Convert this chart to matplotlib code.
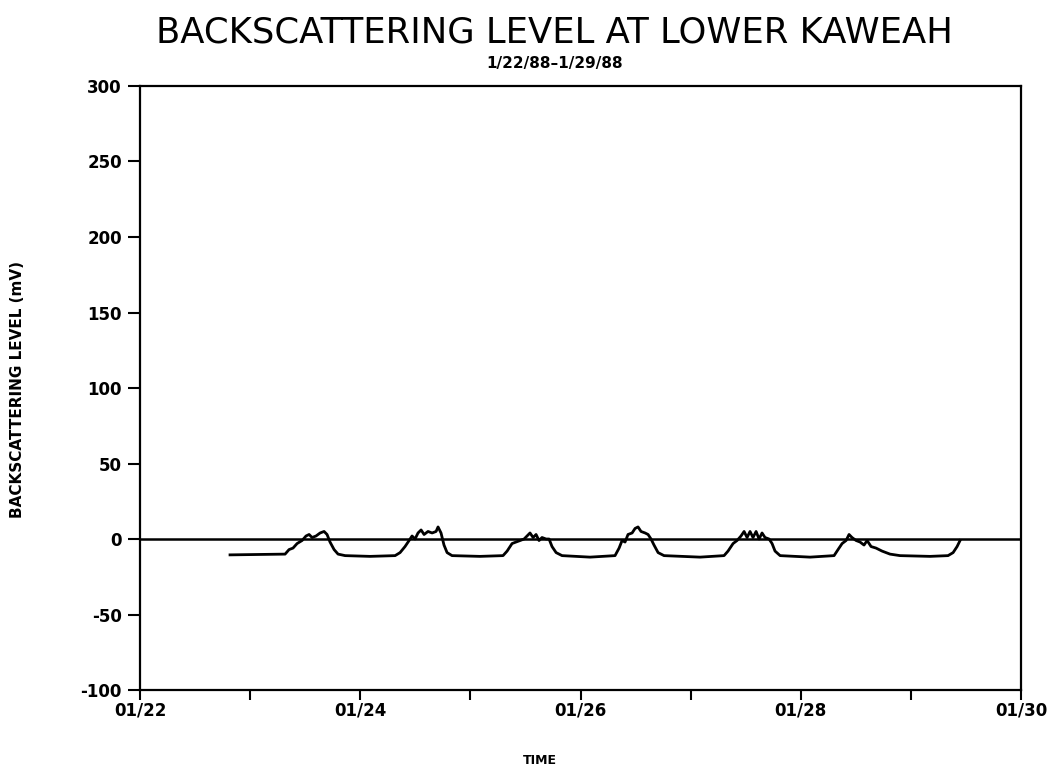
import matplotlib
matplotlib.use("Agg")
import matplotlib.pyplot as plt
import numpy as np

# Time in days since 01/22 00:00, backscattering level in mV
days = [0.817, 1.317, 1.353, 1.389, 1.426, 1.471, 1.507, 1.535, 1.562, 1.598,
        1.635, 1.671, 1.698, 1.725, 1.762, 1.798, 1.862, 2.089, 2.316, 2.361,
        2.406, 2.443, 2.470, 2.497, 2.524, 2.552, 2.579, 2.615, 2.652, 2.688,
        2.706, 2.733, 2.760, 2.788, 2.833, 3.087, 3.296, 3.333, 3.378, 3.414,
        3.451, 3.487, 3.514, 3.541, 3.569, 3.596, 3.623, 3.650, 3.687, 3.714,
        3.741, 3.778, 3.832, 4.086, 4.313, 4.350, 4.377, 4.404, 4.431, 4.468,
        4.495, 4.522, 4.549, 4.586, 4.613, 4.640, 4.667, 4.704, 4.758, 5.085,
        5.303, 5.339, 5.385, 5.421, 5.457, 5.485, 5.512, 5.539, 5.566, 5.594,
        5.621, 5.648, 5.675, 5.712, 5.739, 5.766, 5.812, 6.084, 6.302, 6.338,
        6.375, 6.411, 6.438, 6.465, 6.502, 6.538, 6.574, 6.602, 6.638, 6.683,
        6.738, 6.810, 6.901, 7.174, 7.337, 7.383, 7.419, 7.446]
level = [-10.5, -10, -7, -6, -3, -1, 2, 3, 1, 2,
         4, 5, 3, -2, -7, -10, -11, -11.5, -11, -9,
         -5, -1, 2, 0, 4, 6, 3, 5, 4, 5,
         8, 4, -4, -9, -11, -11.5, -11, -8, -3, -2,
         -1, 0, 2, 4, 1, 3, -1, 1, 0, 0,
         -5, -9, -11, -12, -11, -6, -1, -2, 3, 4,
         7, 8, 5, 4, 3, 0, -4, -9, -11, -12,
         -11, -8, -3, -1, 2, 5, 1, 5, 1, 5,
         0, 4, 1, 0, -3, -8, -11, -12, -11, -7,
         -3, -1, 3, 1, -1, -2, -4, -1, -5, -6,
         -8, -10, -11, -11.5, -11, -9, -5, -1]

xtick_pos = [0, 1, 2, 3, 4, 5, 6, 7, 8]
xtick_labels = ["01/22", "", "01/24", "", "01/26", "", "01/28", "", "01/30"]
ytick_pos = [-100, -50, 0, 50, 100, 150, 200, 250, 300]

fig = plt.figure(figsize=(10.57, 7.74), dpi=100)
ax = fig.add_axes([0.1325, 0.1085, 0.8335, 0.7804])

ax.axhline(0, color="black", lw=1.8, zorder=2)
ax.plot(days, level, color="black", lw=2.0, zorder=3)

ax.set_xlim(0, 8)
ax.set_ylim(-100, 300)
ax.set_xticks(xtick_pos)
ax.set_xticklabels(xtick_labels, fontsize=12, fontweight="bold")
ax.set_yticks(ytick_pos)
ax.set_yticklabels([str(v) for v in ytick_pos], fontsize=12, fontweight="bold")
ax.tick_params(axis="y", direction="out", length=9, width=1.5, pad=4)
ax.tick_params(axis="x", direction="out", length=7, width=1.5, pad=1)

for s in ax.spines.values():
    s.set_linewidth(1.6)

ax.set_ylabel("BACKSCATTERING LEVEL (mV)", fontsize=11, fontweight="bold")
ax.yaxis.set_label_coords(-0.131, 0.497)
ax.set_xlabel("TIME", fontsize=9, fontweight="bold")
ax.xaxis.set_label_coords(0.454, -0.106)

fig.text(0.525, 0.958, "BACKSCATTERING LEVEL AT LOWER KAWEAH", ha="center", va="center",
         fontsize=25.5, fontweight="normal", family="DejaVu Sans")
fig.text(0.525, 0.918, "1/22/88\u20131/29/88", ha="center", va="center",
         fontsize=11, fontweight="bold")

fig.savefig("out.png", dpi=100)
